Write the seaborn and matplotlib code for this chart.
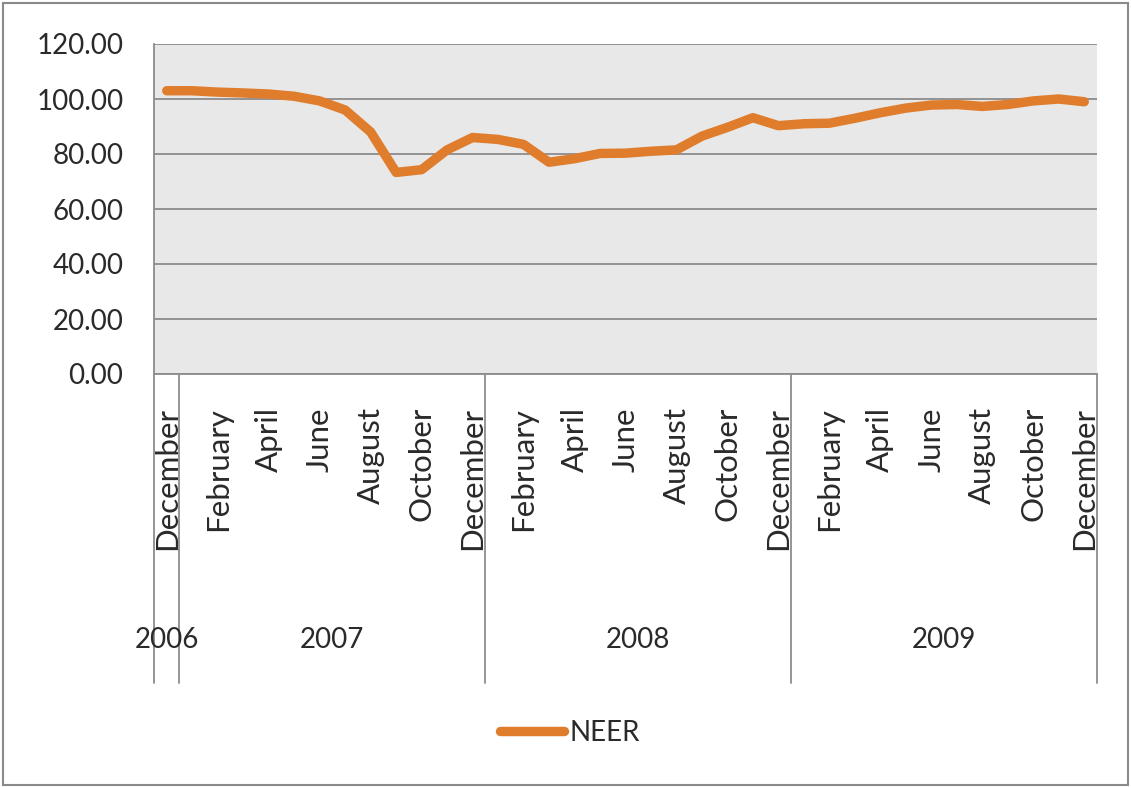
import matplotlib.pyplot as plt
import seaborn as sns
import pandas as pd
from matplotlib.patches import Rectangle

# Monthly NEER index, December 2006 - December 2009
months = ["December",
          "January", "February", "March", "April", "May", "June",
          "July", "August", "September", "October", "November", "December",
          "January", "February", "March", "April", "May", "June",
          "July", "August", "September", "October", "November", "December",
          "January", "February", "March", "April", "May", "June",
          "July", "August", "September", "October", "November", "December"]
years = ["2006"] + ["2007"] * 12 + ["2008"] * 12 + ["2009"] * 12
neer = [103.0, 103.0, 102.5, 102.2, 101.8, 101.0, 99.3, 96.0, 88.0, 73.3,
        74.3, 81.5, 86.0, 85.3, 83.5, 77.0, 78.3, 80.2, 80.3, 81.0,
        81.5, 86.5, 89.7, 93.2, 90.3, 91.0, 91.2, 93.0, 95.0, 96.7,
        97.8, 98.0, 97.3, 98.0, 99.3, 100.0, 99.0]
yticks = [0, 20, 40, 60, 80, 100, 120]

df = pd.DataFrame({"pos": range(len(neer)), "NEER": neer})

sns.set_style("white")
plt.rcParams["font.family"] = ["Lato", "DejaVu Sans"]

W, H = 1131, 787
fig = plt.figure(figsize=(W / 100, H / 100), dpi=100)
ax = fig.add_axes([154 / W, 1 - 374 / H, (1097 - 154) / W, 330 / H])

orange = "#E07D2D"
grid = "#8c8c8c"
txt = "#2a2a2a"

sns.lineplot(data=df, x="pos", y="NEER", ax=ax, color=orange, linewidth=6.8,
             solid_capstyle="round", solid_joinstyle="round", legend=False)

ax.set_facecolor("#e8e8e8")
ax.set_xlim(-0.5, len(neer) - 0.5)
ax.set_ylim(0, 120)
ax.set_yticks(yticks)
ax.set_yticklabels([f"{v:.2f}" for v in yticks], fontsize=20, color=txt)
ax.tick_params(axis="y", length=4, color=grid, pad=18)
ax.set_xticks([])
ax.set_xlabel("")
ax.set_ylabel("")
ax.grid(axis="y", color=grid, linewidth=1.3)
ax.set_axisbelow(True)
for side in ["top", "right"]:
    ax.spines[side].set_visible(False)
for side in ["left", "bottom"]:
    ax.spines[side].set_color(grid)
    ax.spines[side].set_linewidth(1.3)

tr = ax.get_xaxis_transform()
axh = 330
# month labels, every second month
for i, m in enumerate(months):
    if i % 2 == 0:
        ax.text(i, -33 / axh, m, transform=tr, rotation=90, ha="center",
                va="top", fontsize=22.5, color=txt, clip_on=False)

# year groups with separators
bottom = -309 / axh
seps = set()
for y in dict.fromkeys(years):
    idx = [i for i, v in enumerate(years) if v == y]
    first, last = idx[0], idx[-1]
    ax.text((first + last) / 2, -266 / axh, y, transform=tr, ha="center",
            va="center", fontsize=20, color=txt, clip_on=False)
    seps.update([first - 0.5, last + 0.5])
for s in sorted(seps):
    ax.plot([s, s], [0, bottom], transform=tr, color=grid, linewidth=1.3,
            clip_on=False)

fig.legend(ax.get_lines()[:1], ["NEER"], loc="center",
           bbox_to_anchor=(570 / W, 1 - 733 / H), frameon=False,
           fontsize=20, handlelength=2.3, handletextpad=0.2, labelcolor=txt)

fig.patches.append(Rectangle((0.003, 0.003), 0.994, 0.993, transform=fig.transFigure,
                             fill=False, edgecolor="#8a8a8a", linewidth=1.5))

fig.savefig("out.png", dpi=100)
